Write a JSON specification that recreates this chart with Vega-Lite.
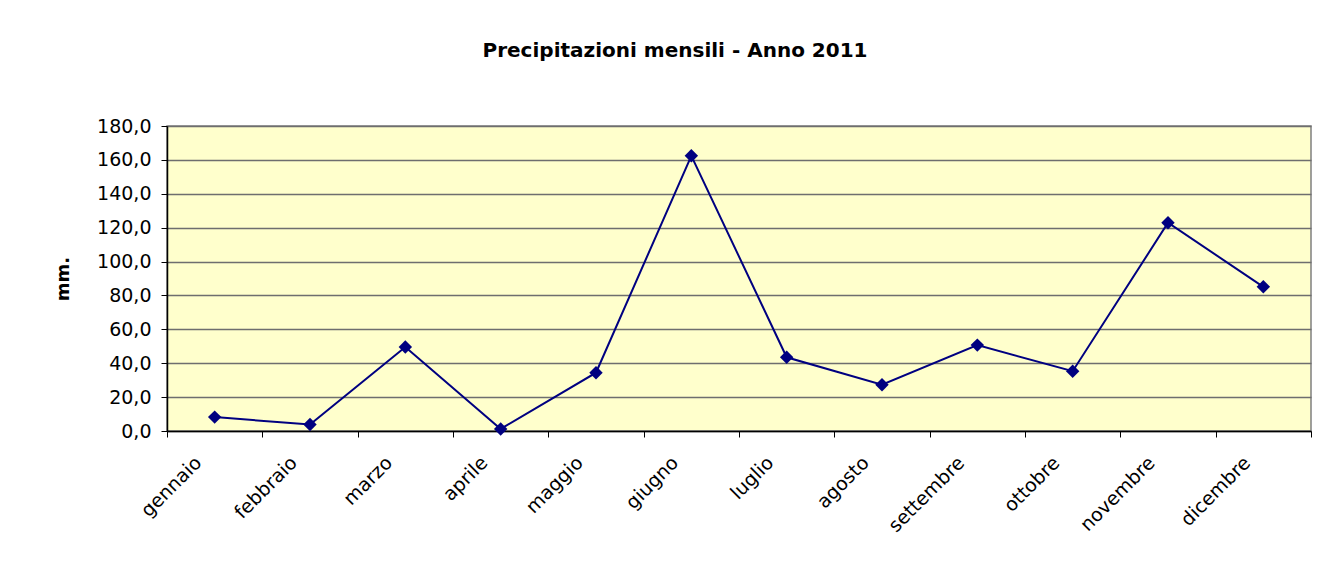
{
  "$schema": "https://vega.github.io/schema/vega-lite/v6.json",
  "width": 1144,
  "height": 305,
  "autosize": {"type": "none"},
  "padding": {"left": 167, "top": 126, "right": 21, "bottom": 133},
  "background": "white",
  "title": {
    "text": "Precipitazioni mensili - Anno 2011",
    "font": "DejaVu Sans",
    "fontSize": 20,
    "fontWeight": "bold",
    "color": "#000000",
    "anchor": "middle",
    "dx": -64,
    "offset": 56
  },
  "config": {
    "locale": {"number": {"decimal": ",", "thousands": ".", "grouping": [3], "currency": ["€", ""]}},
    "view": {"fill": "#FFFFCC", "stroke": "#808080", "strokeWidth": 1.5}
  },
  "data": {
    "values": [
      {"mese": "gennaio", "mm": 8.2},
      {"mese": "febbraio", "mm": 3.8},
      {"mese": "marzo", "mm": 49.6},
      {"mese": "aprile", "mm": 1.2},
      {"mese": "maggio", "mm": 34.4},
      {"mese": "giugno", "mm": 162.4},
      {"mese": "luglio", "mm": 43.5},
      {"mese": "agosto", "mm": 27.3},
      {"mese": "settembre", "mm": 50.7},
      {"mese": "ottobre", "mm": 35.3},
      {"mese": "novembre", "mm": 122.9},
      {"mese": "dicembre", "mm": 85.1}
    ]
  },
  "encoding": {
    "x": {
      "field": "mese",
      "type": "nominal",
      "sort": null,
      "scale": {"paddingInner": 0, "paddingOuter": 0},
      "axis": {
        "title": null,
        "labelAngle": -45,
        "labelFont": "DejaVu Sans",
        "labelFontSize": 19,
        "labelColor": "#000000",
        "labelOffset": -23,
        "tickBand": "extent",
        "tickColor": "#000000",
        "tickSize": 6,
        "domainColor": "#000000",
        "domainWidth": 1.5,
        "labelPadding": 16,
        "grid": false
      }
    },
    "y": {
      "field": "mm",
      "type": "quantitative",
      "scale": {"domain": [0, 180], "nice": false},
      "axis": {
        "title": "mm.",
        "titleFont": "DejaVu Sans",
        "titleFontSize": 18,
        "titleFontWeight": "bold",
        "titleColor": "#000000",
        "titlePadding": 24,
        "values": [0, 20, 40, 60, 80, 100, 120, 140, 160, 180],
        "format": ".1f",
        "labelFont": "DejaVu Sans",
        "labelFontSize": 19,
        "labelColor": "#000000",
        "labelPadding": 10,
        "tickColor": "#000000",
        "tickSize": 6,
        "domainColor": "#000000",
        "domainWidth": 1.5,
        "grid": true,
        "gridColor": "#6E6E6E",
        "gridWidth": 1.5,
        "gridOpacity": 1
      }
    }
  },
  "layer": [
    {"mark": {"type": "line", "color": "#000080", "strokeWidth": 2}},
    {"mark": {"type": "point", "shape": "diamond", "filled": true, "color": "#000080", "opacity": 1, "size": 180}}
  ]
}
